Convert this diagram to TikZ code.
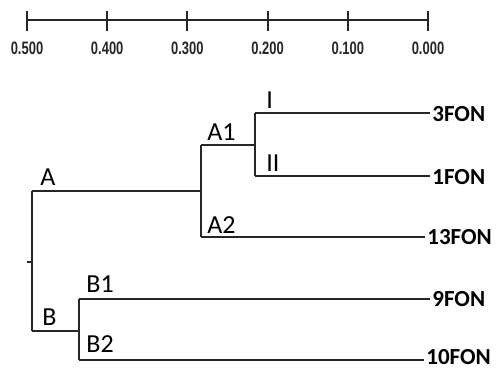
\documentclass[tikz,border=0pt]{standalone}
\usepackage{fontspec}
\setmainfont{Carlito}
\newfontfamily\barfont{Liberation Sans}
\usetikzlibrary{positioning,calc}
\begin{document}
\begin{tikzpicture}[x=0.5pt,y=-0.5pt,
    branch/.style={line width=1pt, black!85},
    clade/.style={font=\fontsize{13}{13}\selectfont, anchor=base west, inner sep=0pt},
    leaf/.style={font=\bfseries\fontsize{11.5}{11.5}\selectfont, anchor=west, inner sep=1pt},
    barlabel/.style={font=\barfont\bfseries\fontsize{9}{9}\selectfont, text=black!85, xscale=0.72}]
  \useasboundingbox (0,0) rectangle (502,369);
  % scale bar
  \draw[branch] (27,20) -- (428,20);
  \foreach \v [count=\i from 0] in {0.500,0.400,0.300,0.200,0.100,0.000} {
    \draw[branch] ({27+80.2*\i},11) -- ({27+80.2*\i},31);
    \node[barlabel] (tick\i) at ({27+80.2*\i},48) {\v};
  }
  % branch points
  \coordinate (stub) at (27,262);
  \coordinate (root) at (32,262);
  \coordinate (A) at (32,191);
  \coordinate (B) at (32,331);
  \coordinate (A1) at (201,145);
  \coordinate (A2) at (201,237);
  \coordinate (I) at (255,113);
  \coordinate (II) at (255,176);
  \coordinate (B1) at (79,299);
  \coordinate (B2) at (79,360);
  % leaves
  \node[leaf] (f3) at (430,114) {3FON};
  \node[leaf] (f1) at (430,177) {1FON};
  \node[leaf] (f13) at (425,237) {13FON};
  \node[leaf] (f9) at (430,299) {9FON};
  \node[leaf] (f10) at (424,357) {10FON};
  % tree
  \draw[branch] (stub) -- (root);
  \draw[branch] (A) -- (B);
  \draw[branch] (A) -| (A1);
  \draw[branch] (A1) -- (A2);
  \draw[branch] (A1) -| (I);
  \draw[branch] (I) -- (II);
  \draw[branch] (I) -- (I -| f3.west);
  \draw[branch] (II) -- (II -| f1.west);
  \draw[branch] (A2) -- (A2 -| f13.west);
  \draw[branch] (B) -| (B1);
  \draw[branch] (B1) -- (B2);
  \draw[branch] (B1) -- (B1 -| f9.west);
  \draw[branch] (B2) -- (B2 -| f10.west);
  % clade labels
  \node[clade] (labA) at ($(A)+(8,-6)$) {A};
  \node[clade] (labA1) at ($(A1)+(6,-5)$) {A1};
  \node[clade] (labA2) at ($(A2)+(6,-4)$) {A2};
  \node[clade] (labI) at ($(I)+(11,-5)$) {I};
  \node[clade] (labII) at ($(II)+(11,-5)$) {II};
  \node[clade] (labB) at ($(B)+(10,-6)$) {B};
  \node[clade] (labB1) at ($(B1)+(7,-7)$) {B1};
  \node[clade] (labB2) at ($(B2)+(7,-8)$) {B2};
\end{tikzpicture}
\end{document}
